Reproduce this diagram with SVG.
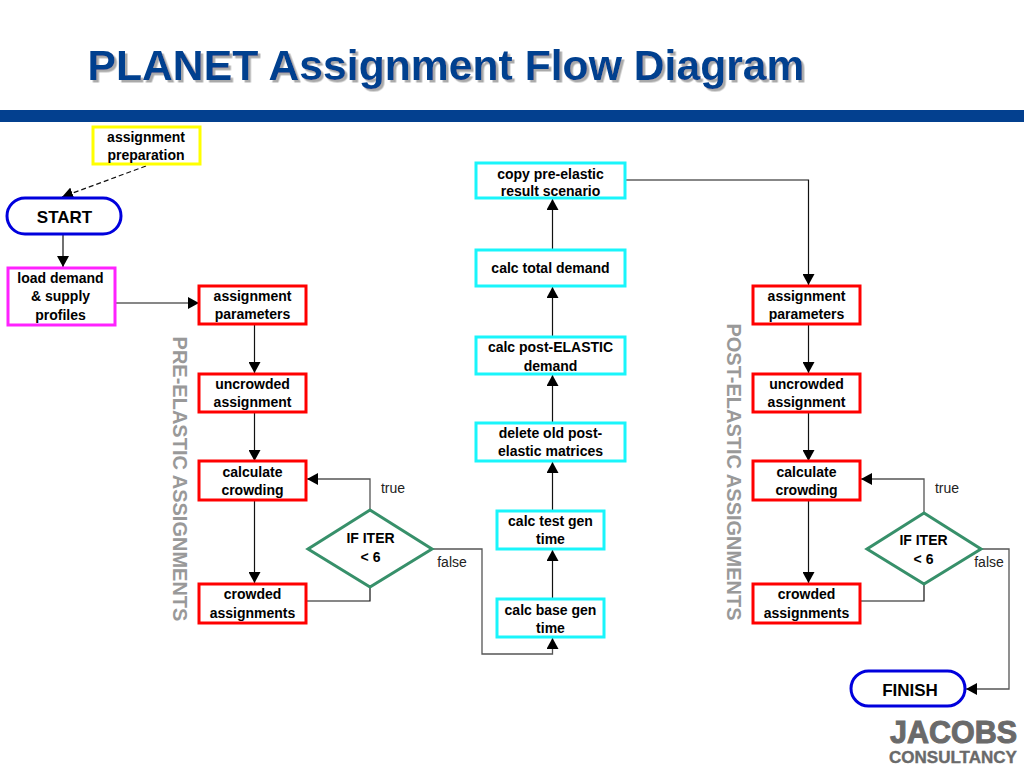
<svg xmlns="http://www.w3.org/2000/svg" width="1024" height="768" viewBox="0 0 1024 768">
<style>
text{font-family:"Liberation Sans",Arial,sans-serif;text-anchor:middle;fill:#000}
.n{font-size:14px;font-weight:bold}
.b{font-size:17px;font-weight:bold}
.l{font-size:14px;fill:#222}
.s{font-size:20px;font-weight:bold;fill:#999}
.box{fill:#fff;stroke-width:3}
.red{stroke:#f00}.cy{stroke:#19f5fb}
.c{fill:none;stroke:#111;stroke-width:1.2}
.g{fill:none;stroke:#555;stroke-width:1.3}
.d{fill:#fff;stroke:#37906a;stroke-width:3}
</style>
<defs>
<marker id="a" markerUnits="userSpaceOnUse" markerWidth="12" markerHeight="12" refX="11" refY="6" orient="auto"><path d="M0 0L11 6L0 12Z" fill="#000"/></marker>
<filter id="shadow" x="-5%" y="-20%" width="110%" height="140%"><feDropShadow dx="2.500" dy="2.500" stdDeviation="0.300" flood-color="#aaa"/></filter>
</defs>
<rect width="1024" height="768" fill="#fff"/>
<g id="title">
<text x="446" y="80" filter="url(#shadow)" style="font-size:42.700px;fill:#03408f;font-weight:bold">PLANET Assignment Flow Diagram</text>
<rect x="0" y="110" width="1024" height="12" fill="#03408f"/>
</g>
<g id="connectors">
<path class="c" stroke-dasharray="5 3" d="M146 166L62 197" marker-end="url(#a)"/>
<path class="c" d="M63 235V267" marker-end="url(#a)"/>
<path class="c" d="M115 303H199" marker-end="url(#a)"/>
<path class="c" d="M254.500 325V373" marker-end="url(#a)"/>
<path class="c" d="M254.500 413V461" marker-end="url(#a)"/>
<path class="c" d="M254.500 500V583" marker-end="url(#a)"/>
<path class="g" d="M370 510V479H307" marker-end="url(#a)"/>
<path class="c" d="M306 601H370V587"/>
<path class="g" d="M432 549H482V654H552.500V638" marker-end="url(#a)"/>
<path class="c" d="M552.500 598V550" marker-end="url(#a)"/>
<path class="c" d="M552.500 510V462" marker-end="url(#a)"/>
<path class="c" d="M552.500 422V375" marker-end="url(#a)"/>
<path class="c" d="M552.500 336V287" marker-end="url(#a)"/>
<path class="c" d="M552.500 249V199" marker-end="url(#a)"/>
<path class="c" d="M626 180H808.500V285" marker-end="url(#a)"/>
<path class="c" d="M808.500 325V373" marker-end="url(#a)"/>
<path class="c" d="M808.500 413V461" marker-end="url(#a)"/>
<path class="c" d="M808.500 500V583" marker-end="url(#a)"/>
<path class="g" d="M924 512V479H861" marker-end="url(#a)"/>
<path class="c" d="M860 601H924V584"/>
<path class="g" d="M981 549H1009V689H966" marker-end="url(#a)"/>
</g>
<g id="prep"><rect class="box" x="93" y="127" width="107" height="37" stroke="#ff0"/><text class="n" x="146" y="142">assignment</text><text class="n" x="146" y="160">preparation</text></g>
<g id="start"><rect class="box" x="7" y="198" width="114" height="36" rx="18" stroke="#00d"/><text class="b" x="64.500" y="223">START</text></g>
<g id="load"><rect class="box" x="8" y="268" width="107" height="57" stroke="#f2f"/><text class="n" x="60.500" y="283">load demand</text><text class="n" x="60.500" y="301">&amp; supply</text><text class="n" x="60.500" y="320">profiles</text></g>
<g id="pre-params"><rect class="box red" x="199" y="286" width="107" height="38"/><text class="n" x="252.500" y="301">assignment</text><text class="n" x="252.500" y="319">parameters</text></g>
<g id="pre-uncrowded"><rect class="box red" x="199" y="374" width="107" height="38"/><text class="n" x="252.500" y="389">uncrowded</text><text class="n" x="252.500" y="407">assignment</text></g>
<g id="pre-calc"><rect class="box red" x="199" y="461" width="107" height="39"/><text class="n" x="252.500" y="477">calculate</text><text class="n" x="252.500" y="495">crowding</text></g>
<g id="pre-crowded"><rect class="box red" x="199" y="584" width="107" height="39"/><text class="n" x="252.500" y="599">crowded</text><text class="n" x="252.500" y="618">assignments</text></g>
<g id="pre-if"><path class="d" d="M370 510L432 549L370 587L308 549Z"/><text class="n" x="370.500" y="543">IF ITER</text><text class="n" x="370.500" y="562">&lt; 6</text></g>
<g id="copy"><rect class="box cy" x="476" y="163" width="149" height="35"/><text class="n" x="550.500" y="179">copy pre-elastic</text><text class="n" x="550.500" y="196">result scenario</text></g>
<g id="total"><rect class="box cy" x="476" y="250" width="149" height="36"/><text class="n" x="550.500" y="273">calc total demand</text></g>
<g id="post-demand"><rect class="box cy" x="476" y="337" width="149" height="37"/><text class="n" x="550.500" y="352">calc post-ELASTIC</text><text class="n" x="550.500" y="371">demand</text></g>
<g id="delete"><rect class="box cy" x="476" y="423" width="149" height="38"/><text class="n" x="550.500" y="438">delete old post-</text><text class="n" x="550.500" y="456">elastic matrices</text></g>
<g id="test"><rect class="box cy" x="497" y="511" width="107" height="38"/><text class="n" x="550.500" y="526">calc test gen</text><text class="n" x="550.500" y="544">time</text></g>
<g id="base"><rect class="box cy" x="497" y="599" width="107" height="38"/><text class="n" x="550.500" y="615">calc base gen</text><text class="n" x="550.500" y="633">time</text></g>
<g id="post-params"><rect class="box red" x="753" y="286" width="107" height="38"/><text class="n" x="806.500" y="301">assignment</text><text class="n" x="806.500" y="319">parameters</text></g>
<g id="post-uncrowded"><rect class="box red" x="753" y="374" width="107" height="38"/><text class="n" x="806.500" y="389">uncrowded</text><text class="n" x="806.500" y="407">assignment</text></g>
<g id="post-calc"><rect class="box red" x="753" y="461" width="107" height="39"/><text class="n" x="806.500" y="477">calculate</text><text class="n" x="806.500" y="495">crowding</text></g>
<g id="post-crowded"><rect class="box red" x="753" y="584" width="107" height="39"/><text class="n" x="806.500" y="599">crowded</text><text class="n" x="806.500" y="618">assignments</text></g>
<g id="post-if"><path class="d" d="M924 513L981 549L924 584L867 549Z"/><text class="n" x="923.500" y="545">IF ITER</text><text class="n" x="923.500" y="564">&lt; 6</text></g>
<g id="finish"><rect class="box" x="851" y="671" width="114" height="35" rx="17.500" stroke="#00d"/><text class="b" x="910" y="696">FINISH</text></g>
<g id="labels">
<text class="l" x="393" y="493">true</text><text class="l" x="452" y="567">false</text>
<text class="l" x="947" y="493">true</text><text class="l" x="989" y="567">false</text>
<text class="s" transform="translate(173 479) rotate(90)">PRE-ELASTIC ASSIGNMENTS</text>
<text class="s" transform="translate(727 472) rotate(90)">POST-ELASTIC ASSIGNMENTS</text>
</g>
<g id="logo">
<text x="953.500" y="743" style="font-size:30.500px;font-weight:bold;fill:#6a6a6a;stroke:#6a6a6a;stroke-width:1">JACOBS</text>
<text x="953" y="763" style="font-size:17px;font-weight:bold;fill:#6a6a6a;stroke:#6a6a6a;stroke-width:.4">CONSULTANCY</text>
</g>
</svg>
